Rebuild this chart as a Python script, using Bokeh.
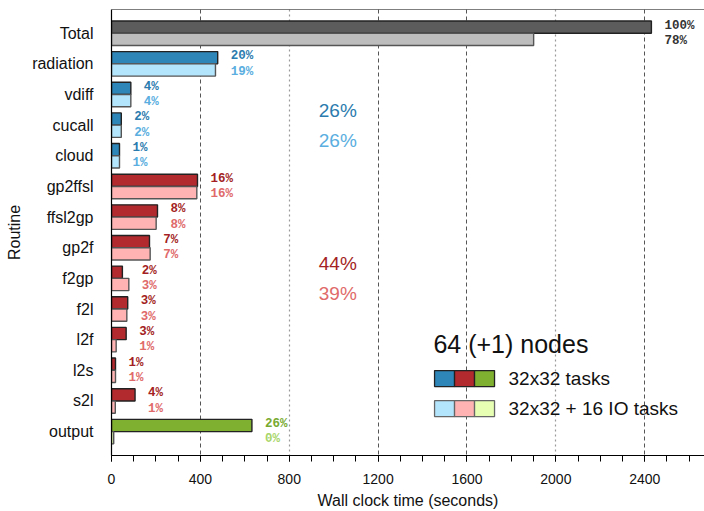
from bokeh.plotting import figure
from bokeh.models import Range1d, FixedTicker, SingleIntervalTicker, Grid, Span, Label
from bokeh.core.properties import value
from bokeh.embed import file_html
from bokeh.resources import INLINE

# ---------------- data ----------------
routines = ["Total", "radiation", "vdiff", "cucall", "cloud", "gp2ffsl", "ffsl2gp",
            "gp2f", "f2gp", "f2l", "l2f", "l2s", "s2l", "output"]
group = ["total", "phys", "phys", "phys", "phys", "dyn", "dyn", "dyn", "dyn",
         "dyn", "dyn", "dyn", "dyn", "io"]
time_full = [2430, 478, 87, 44, 36, 387, 207, 171, 49, 73, 66, 18, 106, 632]
time_io = [1900, 468, 87, 44, 36, 384, 201, 174, 78, 69, 21, 18, 17, 10]
pct_full = ["100%", "20%", "4%", "2%", "1%", "16%", "8%", "7%", "2%", "3%", "3%", "1%", "4%", "26%"]
pct_io = ["78%", "19%", "4%", "2%", "1%", "16%", "8%", "7%", "3%", "3%", "1%", "1%", "1%", "0%"]
group_names = ["phys", "dyn"]
group_pct_full = ["26%", "44%"]
group_pct_io = ["26%", "39%"]
legend_title = "64 (+1) nodes"
legend_labels = ["32x32 tasks", "32x32 + 16 IO tasks"]
legend_groups = ["phys", "dyn", "io"]
x_title = "Wall clock time (seconds)"
y_title = "Routine"

# ---------------- style ----------------
fill_full = {"total": "#5c5c5c", "phys": "#2e86b8", "dyn": "#b2292e", "io": "#80b030"}
fill_io = {"total": "#bdbdbd", "phys": "#b3e5fc", "dyn": "#ffb3b3", "io": "#e6ffb3"}
text_full = {"total": "#333333", "phys": "#2b7bae", "dyn": "#a31f24", "io": "#78aa30"}
text_io = {"total": "#333333", "phys": "#5aaee0", "dyn": "#e06a6a", "io": "#a8d66a"}
SANS = "Liberation Sans"
MONO = "Liberation Mono"

n = len(routines)
ys = list(range(n))
y_top = -0.774
y_bottom = 13.78

p = figure(width=704, height=511, output_backend="svg", toolbar_location=None,
           x_range=Range1d(0, 2669), y_range=Range1d(y_bottom, y_top),
           min_border_left=111, min_border_right=0, min_border_top=9, min_border_bottom=56)
p.outline_line_color = None
p.background_fill_color = "white"
p.border_fill_color = "white"

# grids
p.xgrid.ticker = FixedTicker(ticks=[400, 1200, 1600, 2400])
p.xgrid.grid_line_color = "#555555"
p.xgrid.grid_line_dash = "4 3"
p.xgrid.grid_line_width = 1
p.ygrid.grid_line_color = None
g2 = Grid(dimension=0, ticker=FixedTicker(ticks=[800, 2000]), grid_line_color="#999999",
          grid_line_dash="2 3", grid_line_width=1.2)
p.add_layout(g2, "center")

# bars
p.hbar(y=[y - 0.2 for y in ys], left=0, right=time_full, height=0.4,
       fill_color=[fill_full[g] for g in group], line_color="#222222", line_width=1.4)
p.hbar(y=[y + 0.2 for y in ys], left=0, right=time_io, height=0.4,
       fill_color=[fill_io[g] for g in group], line_color="#555555", line_width=1.4)

# percent labels
xmax = [max(a, b) for a, b in zip(time_full, time_io)]
p.text(x=xmax, y=[y - 0.25 for y in ys], text=pct_full, x_offset=13,
       text_color=[text_full[g] for g in group], text_font=value(MONO), text_font_style="bold",
       text_font_size="12.5px", text_align="left", text_baseline="middle")
p.text(x=xmax, y=[y + 0.25 for y in ys], text=pct_io, x_offset=13,
       text_color=[text_io[g] for g in group], text_font=value(MONO), text_font_style="bold",
       text_font_size="12.5px", text_align="left", text_baseline="middle")

# group percentages
group_label_y = {"phys": (2.52, 3.50), "dyn": (7.53, 8.50)}
for gname, pf, pi in zip(group_names, group_pct_full, group_pct_io):
    yf, yi = group_label_y[gname]
    p.add_layout(Label(x=933, y=yf, text=pf, text_color=text_full[gname], text_font=SANS,
                       text_font_size="19px", text_baseline="middle"))
    p.add_layout(Label(x=933, y=yi, text=pi, text_color=text_io[gname], text_font=SANS,
                       text_font_size="19px", text_baseline="middle"))

# legend
p.add_layout(Label(x=1449, y=10.13, text=legend_title, text_font=SANS, text_font_size="25px",
                   text_color="#111111", text_baseline="middle"))
sw_left = [1454 + 90 * k for k in range(len(legend_groups))]
sw_right = [l + 90 for l in sw_left]
p.quad(left=sw_left, right=sw_right, top=[11.01] * 3, bottom=[11.53] * 3,
       fill_color=[fill_full[g] for g in legend_groups], line_color="#222222", line_width=1.3)
p.quad(left=sw_left, right=sw_right, top=[11.99] * 3, bottom=[12.51] * 3,
       fill_color=[fill_io[g] for g in legend_groups], line_color="#666666", line_width=1.3)
for lab, yy in zip(legend_labels, [11.27, 12.25]):
    p.add_layout(Label(x=1787, y=yy, text=lab, text_font=SANS, text_font_size="19px",
                       text_color="#111111", text_baseline="middle"))

# top border
p.add_layout(Span(location=y_top, dimension="width", line_color="#000000", line_width=1.2))

# x axis
xa = p.xaxis[0]
xa.ticker = SingleIntervalTicker(interval=400, num_minor_ticks=4)
xa.axis_line_color = "#000000"
xa.axis_line_width = 1.2
xa.major_tick_in = 0
xa.major_tick_out = 6
xa.minor_tick_in = 0
xa.minor_tick_out = 6
xa.major_tick_line_color = "#000000"
xa.minor_tick_line_color = "#000000"
xa.major_label_text_font = SANS
xa.major_label_text_font_size = "14px"
xa.major_label_text_color = "#111111"
xa.major_label_standoff = 12
xa.axis_label = x_title
xa.axis_label_text_font = SANS
xa.axis_label_text_font_size = "16px"
xa.axis_label_text_font_style = "normal"
xa.axis_label_text_color = "#111111"
xa.axis_label_standoff = 5

# y axis
ya = p.yaxis[0]
ya.ticker = FixedTicker(ticks=ys)
ya.major_label_overrides = {i: r for i, r in zip(ys, routines)}
ya.axis_line_color = "#000000"
ya.axis_line_width = 1.2
ya.major_tick_in = 0
ya.major_tick_out = 0
ya.minor_tick_in = 0
ya.minor_tick_out = 0
ya.major_label_text_font = SANS
ya.major_label_text_font_size = "16px"
ya.major_label_text_color = "#111111"
ya.major_label_standoff = 18
ya.axis_label = y_title
ya.axis_label_text_font = SANS
ya.axis_label_text_font_size = "16px"
ya.axis_label_text_font_style = "normal"
ya.axis_label_text_color = "#111111"
ya.axis_label_standoff = 6

open("out.html", "w").write(file_html(p, INLINE))
